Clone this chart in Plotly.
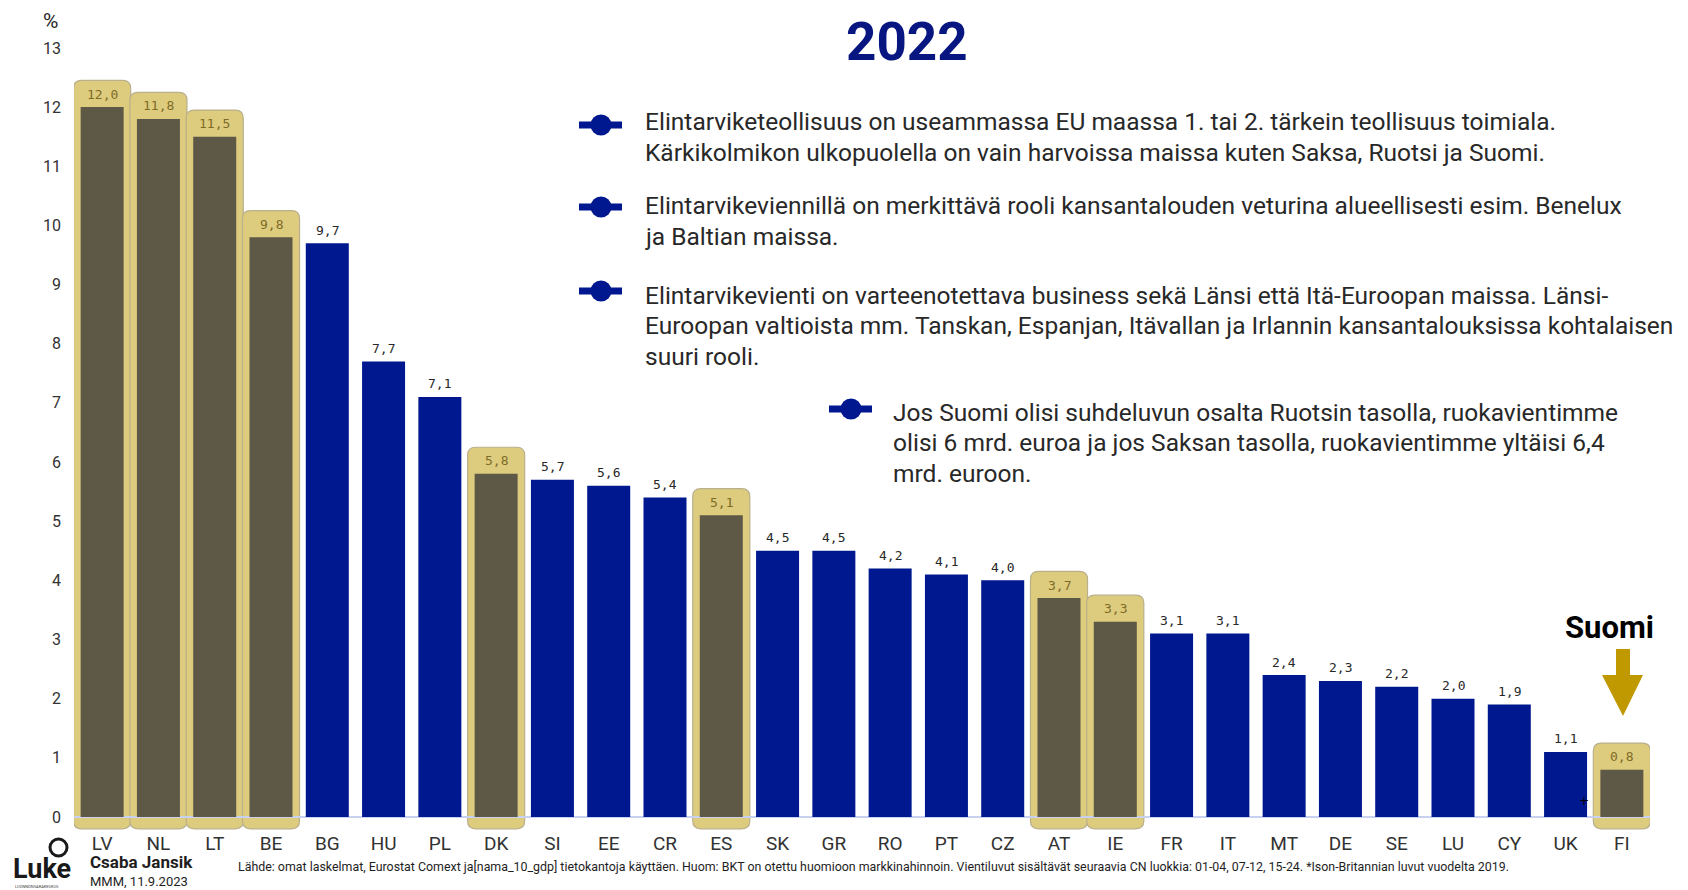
import plotly.graph_objects as go

# ---------------- data ----------------
countries = ["LV", "NL", "LT", "BE", "BG", "HU", "PL", "DK", "SI", "EE", "CR", "ES", "SK", "GR",
             "RO", "PT", "CZ", "AT", "IE", "FR", "IT", "MT", "DE", "SE", "LU", "CY", "UK", "FI"]
values = [12.0, 11.8, 11.5, 9.8, 9.7, 7.7, 7.1, 5.8, 5.7, 5.6, 5.4, 5.1, 4.5, 4.5,
          4.2, 4.1, 4.0, 3.7, 3.3, 3.1, 3.1, 2.4, 2.3, 2.2, 2.0, 1.9, 1.1, 0.8]
highlighted = ["LV", "NL", "LT", "BE", "DK", "ES", "AT", "IE", "FI"]
y_ticks = list(range(0, 14))

title_text = "2022"
bullets = [
    ["Elintarviketeollisuus on useammassa EU maassa 1. tai 2. tärkein teollisuus toimiala.",
     "Kärkikolmikon ulkopuolella on vain harvoissa maissa kuten Saksa, Ruotsi ja Suomi."],
    ["Elintarvikeviennillä on merkittävä rooli kansantalouden veturina alueellisesti esim. Benelux",
     "ja Baltian maissa."],
    ["Elintarvikevienti on varteenotettava business sekä Länsi että Itä-Euroopan maissa. Länsi-",
     "Euroopan valtioista mm. Tanskan, Espanjan, Itävallan ja Irlannin kansantalouksissa kohtalaisen",
     "suuri rooli."],
    ["Jos Suomi olisi suhdeluvun osalta Ruotsin tasolla, ruokavientimme",
     "olisi 6 mrd. euroa ja jos Saksan tasolla, ruokavientimme yltäisi 6,4",
     "mrd. euroon."],
]
source_text = ("Lähde: omat laskelmat, Eurostat Comext ja[nama_10_gdp] tietokantoja käyttäen. "
               "Huom: BKT on otettu huomioon markkinahinnoin. Vientiluvut sisältävät seuraavia CN luokkia: "
               "01-04, 07-12, 15-24. *Ison-Britannian luvut vuodelta 2019.")
author = "Csaba Jansik"
date_text = "MMM, 11.9.2023"

# ---------------- style ----------------
BLUE = "rgb(0,24,143)"
BROWN = "rgb(94,88,71)"
GOLD = "rgb(221,203,126)"
GOLD_LINE = "rgb(185,176,140)"
OLIVE = "rgb(125,108,40)"
TXT = "rgb(40,40,40)"
ARROW = "rgb(192,153,0)"
NAVY_T = "rgb(8,22,130)"

# page offset of the figure (default body margin) is compensated
OFF = 8
W, H = 1688 - OFF, 890 - OFF
PLOT_L, PLOT_R, PLOT_T, PLOT_B = 74, 1650, 42, 830   # target screen pixels
ML, MR, MT, MB = PLOT_L - OFF, W - (PLOT_R - OFF), PLOT_T - OFF, H - (PLOT_B - OFF)
PW, PH = PLOT_R - PLOT_L, PLOT_B - PLOT_T


def px(x):
    return (x - PLOT_L) / PW


def py(y):
    return (PLOT_B - y) / PH


xs = list(range(len(countries)))
is_hl = [c in highlighted for c in countries]
bar_colors = [BROWN if h else BLUE for h in is_hl]
text_colors = [OLIVE if h else TXT for h in is_hl]
labels = [f"{v:.1f}".replace(".", ",") for v in values]

fig = go.Figure()
fig.add_trace(go.Bar(
    x=xs, y=values, marker=dict(color=bar_colors, line=dict(width=0)),
    cliponaxis=False, hoverinfo="skip", showlegend=False,
))

shapes = []
annotations = []
# value labels above bars
for xi, v, lab, col in zip(xs, values, labels, text_colors):
    annotations.append(dict(x=xi, y=v, xref="x", yref="y", text=lab, showarrow=False,
                            xanchor="center", yanchor="middle", yshift=13,
                            font=dict(family="DejaVu Sans Mono", size=13, color=col)))

# rounded gold boxes behind highlighted bars
hw, rx, ry = 0.507, 0.142, 0.135
for i, (v, h) in enumerate(zip(values, is_hl)):
    if not h:
        continue
    x0, x1, y0, y1 = i - hw, i + hw, -0.2, v + 0.45
    path = (f"M {x0+rx},{y0} L {x1-rx},{y0} Q {x1},{y0} {x1},{y0+ry} "
            f"L {x1},{y1-ry} Q {x1},{y1} {x1-rx},{y1} L {x0+rx},{y1} "
            f"Q {x0},{y1} {x0},{y1-ry} L {x0},{y0+ry} Q {x0},{y0} {x0+rx},{y0} Z")
    shapes.append(dict(type="path", path=path, xref="x", yref="y", layer="below",
                       fillcolor=GOLD, line=dict(color=GOLD_LINE, width=1.2)))

# bullets
bullet_pos = [(601, 125, 643, 122), (601, 207, 643, 206), (601, 291, 643, 295), (851, 409, 891, 412)]
for (bx, by, tx, ty), lines in zip(bullet_pos, bullets):
    shapes.append(dict(type="line", xref="paper", yref="paper",
                       x0=px(bx - 22), x1=px(bx + 21), y0=py(by), y1=py(by),
                       line=dict(color=BLUE, width=7)))
    shapes.append(dict(type="circle", xref="paper", yref="paper",
                       x0=px(bx - 10.5), x1=px(bx + 10.5), y0=py(by + 10.5), y1=py(by - 10.5),
                       fillcolor=BLUE, line=dict(width=0)))
    for k, ln in enumerate(lines):
        annotations.append(dict(text=ln, xref="paper", yref="paper", x=px(tx), y=py(ty + k * 30.7),
                                xanchor="left", yanchor="middle", showarrow=False,
                                font=dict(family="Roboto", size=24.5, color=TXT)))

# title
annotations.append(dict(text=f"<b>{title_text}</b>", xref="paper", yref="paper", x=px(907), y=py(42),
                        xanchor="center", yanchor="middle", showarrow=False,
                        font=dict(family="Roboto", size=53, color=NAVY_T)))
# % label
annotations.append(dict(text="%", xref="paper", yref="paper", x=px(50), y=py(21),
                        xanchor="center", yanchor="middle", showarrow=False,
                        font=dict(family="Roboto", size=21, color=TXT)))
# Suomi + arrow
annotations.append(dict(text="<b>Suomi</b>", xref="paper", yref="paper", x=px(1609), y=py(627),
                        xanchor="center", yanchor="middle", showarrow=False,
                        font=dict(family="Roboto", size=31, color="black")))
ax = [1616, 1630, 1630, 1643, 1623, 1602, 1616]
ay = [649, 649, 675, 675, 716, 675, 675]
arrow_path = "M " + " L ".join(f"{px(a)},{py(b)}" for a, b in zip(ax, ay)) + " Z"
shapes.append(dict(type="path", xref="paper", yref="paper", path=arrow_path,
                   fillcolor=ARROW, line=dict(width=0)))
# small plus mark
annotations.append(dict(text="+", xref="paper", yref="paper", x=px(1584), y=py(801),
                        xanchor="center", yanchor="middle", showarrow=False,
                        font=dict(family="DejaVu Sans", size=12, color="black")))

# footer
annotations.append(dict(text=f"<b>{author}</b>", xref="paper", yref="paper", x=px(88), y=py(862),
                        xanchor="left", yanchor="middle", showarrow=False,
                        font=dict(family="Roboto", size=17, color="rgb(30,30,30)")))
annotations.append(dict(text=date_text, xref="paper", yref="paper", x=px(88), y=py(881),
                        xanchor="left", yanchor="middle", showarrow=False,
                        font=dict(family="Roboto", size=13, color="rgb(30,30,30)")))
annotations.append(dict(text=source_text, xref="paper", yref="paper", x=px(236), y=py(866),
                        xanchor="left", yanchor="middle", showarrow=False,
                        font=dict(family="Roboto", size=12.4, color="rgb(30,30,30)")))
# Luke logo
annotations.append(dict(text="<b>Luke</b>", xref="paper", yref="paper", x=px(11), y=py(869),
                        xanchor="left", yanchor="middle", showarrow=False,
                        font=dict(family="Roboto", size=27, color="rgb(25,25,25)")))
annotations.append(dict(text="LUONNONVARAKESKUS", xref="paper", yref="paper", x=px(13), y=py(886),
                        xanchor="left", yanchor="middle", showarrow=False,
                        font=dict(family="Roboto", size=4, color="rgb(60,60,60)")))
shapes.append(dict(type="circle", xref="paper", yref="paper",
                   x0=px(50), x1=px(67), y0=py(856), y1=py(839),
                   line=dict(color="rgb(25,25,25)", width=3)))

fig.update_layout(
    width=W, height=H,
    margin=dict(l=ML, r=MR, t=MT, b=MB),
    paper_bgcolor="white", plot_bgcolor="white",
    bargap=0.236,
    shapes=shapes, annotations=annotations,
    xaxis=dict(range=[-0.5, len(countries) - 0.5], tickmode="array", tickvals=xs, ticktext=countries,
               showgrid=False, zeroline=False, showline=False, ticks="",
               tickfont=dict(family="Roboto", size=19, color="rgb(50,50,50)")),
    yaxis=dict(range=[-0.22, 13.1], tickmode="array", tickvals=y_ticks,
               ticktext=[str(t) for t in y_ticks],
               showgrid=False, zeroline=True, zerolinecolor="rgb(200,210,240)", zerolinewidth=1.5,
               showline=False, ticks="", ticklabelstandoff=12,
               tickfont=dict(family="Roboto", size=16, color="rgb(50,50,50)")),
    font=dict(family="Roboto"),
)

fig.write_html("out.html")
